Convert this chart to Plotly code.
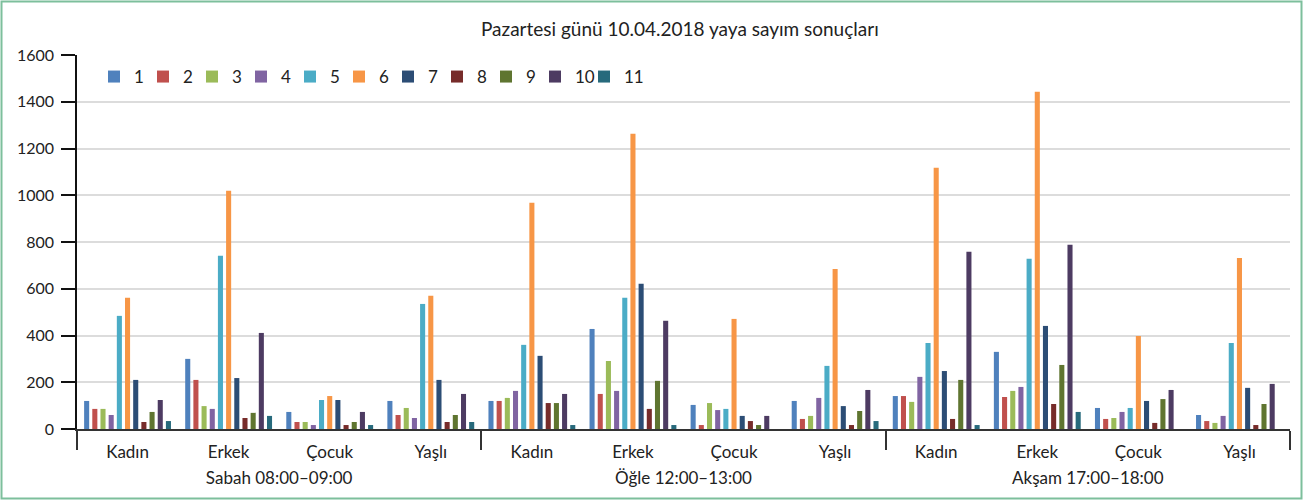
import plotly.graph_objects as go

# Zaman dilimleri ve yaya grupları
donemler = ["Sabah 08:00–09:00", "Öğle 12:00–13:00", "Akşam 17:00–18:00"]
gruplar = ["Kadın", "Erkek", "Çocuk", "Yaşlı"]

# Sayım noktası (1–11) başına değerler, sıra: dönem × grup
nokta_1 = [120, 300, 73, 120, 120, 428, 103, 120, 141, 330, 90, 60]
nokta_2 = [86, 210, 30, 60, 120, 150, 17, 43, 141, 137, 43, 34]
nokta_3 = [86, 98, 30, 90, 133, 291, 111, 56, 116, 163, 47, 26]
nokta_4 = [60, 86, 17, 47, 163, 163, 81, 133, 223, 180, 73, 56]
nokta_5 = [484, 741, 124, 535, 360, 561, 86, 270, 368, 728, 90, 368]
nokta_6 = [561, 1019, 141, 570, 968, 1263, 471, 685, 1118, 1443, 398, 732]
nokta_7 = [210, 218, 124, 210, 313, 621, 56, 98, 248, 441, 120, 176]
nokta_8 = [30, 47, 17, 30, 111, 86, 34, 17, 43, 107, 26, 17]
nokta_9 = [73, 69, 30, 60, 111, 206, 17, 77, 210, 274, 128, 107]
nokta_10 = [124, 411, 73, 150, 150, 463, 56, 167, 758, 788, 167, 193]
nokta_11 = [34, 56, 17, 30, 17, 17, 0, 34, 17, 73, 0, 0]

seriler = [nokta_1, nokta_2, nokta_3, nokta_4, nokta_5, nokta_6,
           nokta_7, nokta_8, nokta_9, nokta_10, nokta_11]
seri_adlari = [str(i) for i in range(1, 12)]
renkler = ["#4F81BD", "#C0504D", "#9BBB59", "#8064A2", "#4BACC6", "#F79646",
           "#2C4D75", "#772C2A", "#5F7530", "#4D3B62", "#276A7C"]

# Kategori konumları: her dönem için dört grup yan yana
ic_seviye = [g for _ in donemler for g in gruplar]
konum = list(range(len(ic_seviye)))
n = len(gruplar)
donem_ortasi = [i * n + (n - 1) / 2 for i in range(len(donemler))]
donem_sinirlari = [i * n - 0.5 for i in range(len(donemler) + 1)]

W, H = 1303, 500
ML, MR, MT, MB = 77, 13, 55, 71
PW, PH = W - ML - MR, H - MT - MB

fig = go.Figure()
for ad, degerler, renk in zip(seri_adlari, seriler, renkler):
    fig.add_trace(go.Bar(
        x=konum, y=degerler, name=ad,
        marker=dict(color=renk, line=dict(width=0)),
    ))

# Dönem etiketleri ekseni için boş, görünmez iz (açıklamada son boş girişi
# oluşturarak "11" yazısının kırpılmasını da önler)
fig.add_trace(go.Scatter(
    x=donem_ortasi, y=[None] * len(donemler), xaxis="x2", name="",
    mode="markers",
    marker=dict(color="rgba(0,0,0,0)", size=1, line=dict(width=0)),
    hoverinfo="skip", showlegend=True,
))

yazi = "Lato, 'Open Sans', sans-serif"
fig.update_layout(
    width=W, height=H,
    margin=dict(l=ML, r=MR, t=MT, b=MB),
    paper_bgcolor="white", plot_bgcolor="white",
    font=dict(family=yazi, size=17, color="#222"),
    title=dict(text="Pazartesi günü 10.04.2018 yaya sayım sonuçları",
               xref="paper", x=0.497, xanchor="center",
               y=1 - 29 / H, yanchor="middle",
               font=dict(size=19, color="#222")),
    barmode="group", bargap=0.11, bargroupgap=0.38,
    showlegend=True,
    legend=dict(orientation="h", x=(94 - ML) / PW, xanchor="left",
                y=1 - (77 - MT) / PH, yanchor="middle",
                bgcolor="rgba(0,0,0,0)", font=dict(size=17),
                entrywidth=4, entrywidthmode="pixels",
                itemwidth=30, traceorder="normal"),
    xaxis=dict(range=[donem_sinirlari[0], donem_sinirlari[-1]],
               tickmode="array", tickvals=konum, ticktext=ic_seviye,
               ticks="", showline=True, linecolor="#333", linewidth=2,
               showgrid=False, zeroline=False, ticklabelstandoff=7,
               tickfont=dict(size=17, color="#222"),
               minor=dict(tickmode="array", tickvals=donem_sinirlari,
                          ticks="outside", ticklen=19, tickwidth=1.5,
                          tickcolor="#333", showgrid=False)),
    xaxis2=dict(overlaying="x", matches="x", anchor="y", side="bottom",
                tickmode="array", tickvals=donem_ortasi, ticktext=donemler,
                ticks="", showline=False, showgrid=False, zeroline=False,
                ticklabelstandoff=37, tickfont=dict(size=17, color="#222")),
    yaxis=dict(range=[0, 1600], dtick=200, showline=True, linecolor="#111",
               linewidth=1.5, ticks="outside", ticklen=14, tickcolor="#111",
               tickwidth=1.5, showgrid=True, gridcolor="#dcdcdc", gridwidth=2,
               zeroline=False, tickfont=dict(size=16, color="#222"),
               ticklabelstandoff=4),
    shapes=[dict(type="rect", xref="paper", yref="paper",
                 x0=-(ML - 1.5) / PW, x1=1 + (MR - 1.5) / PW,
                 y0=-(MB - 1.5) / PH, y1=1 + (MT - 1.5) / PH,
                 line=dict(color="#7dbf9c", width=2), layer="below")],
)

fig.write_html("out.html")
